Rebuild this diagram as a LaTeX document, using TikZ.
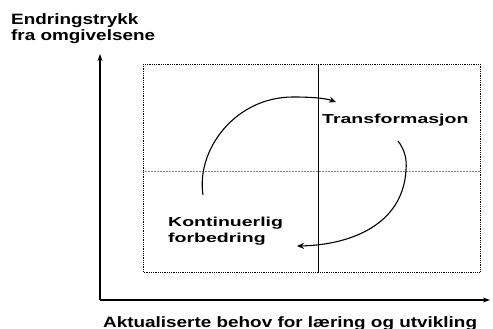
\documentclass[tikz,border=0pt]{standalone}
\usepackage{fontspec}
\setmainfont{Liberation Sans}
\newfontfamily\axfont{Liberation Sans}[FakeStretch=1.26]
\newfontfamily\infont{Liberation Sans}[FakeStretch=1.5]
\usetikzlibrary{arrows.meta}
\begin{document}
\begin{tikzpicture}[x=1pt,y=-1pt,
  axlbl/.style={font=\axfont\bfseries\fontsize{15}{16}\selectfont, inner sep=0pt},
  inlbl/.style={font=\infont\bfseries\fontsize{13}{15.5}\selectfont, inner sep=0pt},
  axis/.style={line width=1.3pt, -{Stealth[length=7pt,width=5pt]}},
  cyc/.style={line width=1.1pt, -{Stealth[length=7pt,width=6pt]}}]
\useasboundingbox (0,0) rectangle (493,329);
% quadrant box
\draw[densely dotted, line width=0.8pt] (143,64) rectangle (480,272);
\draw[densely dotted, gray, line width=0.5pt] (143,171) -- (480,171);
\draw[line width=0.8pt] (318,64) -- (318,272);
% axes
\coordinate (o) at (100,300);
\coordinate (ytop) at (100,54);
\coordinate (xend) at (490,300);
\draw[axis] (o) -- (ytop);
\draw[axis] (o) -- (xend);
% labels
\node[axlbl, anchor=north west, align=left] (ylab) at (11,13) {Endringstrykk\\fra omgivelsene};
\node[axlbl, anchor=base west] (xlab) at (103,327) {Aktualiserte behov for læring og utvikling};
\node[inlbl, anchor=base west] (trans) at (322,124) {Transformasjon};
\node[inlbl, anchor=north west, align=left] (kont) at (168,217) {Kontinuerlig\\forbedring};
% cycle arrows
\coordinate (a1s) at (203,195);
\coordinate (a1m) at (293,97);
\coordinate (a1e) at (336,102);
\draw[cyc] (a1s) .. controls (196,150) and (235,97) .. (a1m) .. controls (310,97) and (325,98) .. (a1e);
\coordinate (a2s) at (398,141);
\coordinate (a2m) at (406,170);
\coordinate (a2e) at (297,246);
\draw[cyc] (a2s) .. controls (405,150) and (407,160) .. (a2m) .. controls (403,225) and (350,245) .. (a2e);
\end{tikzpicture}
\end{document}
